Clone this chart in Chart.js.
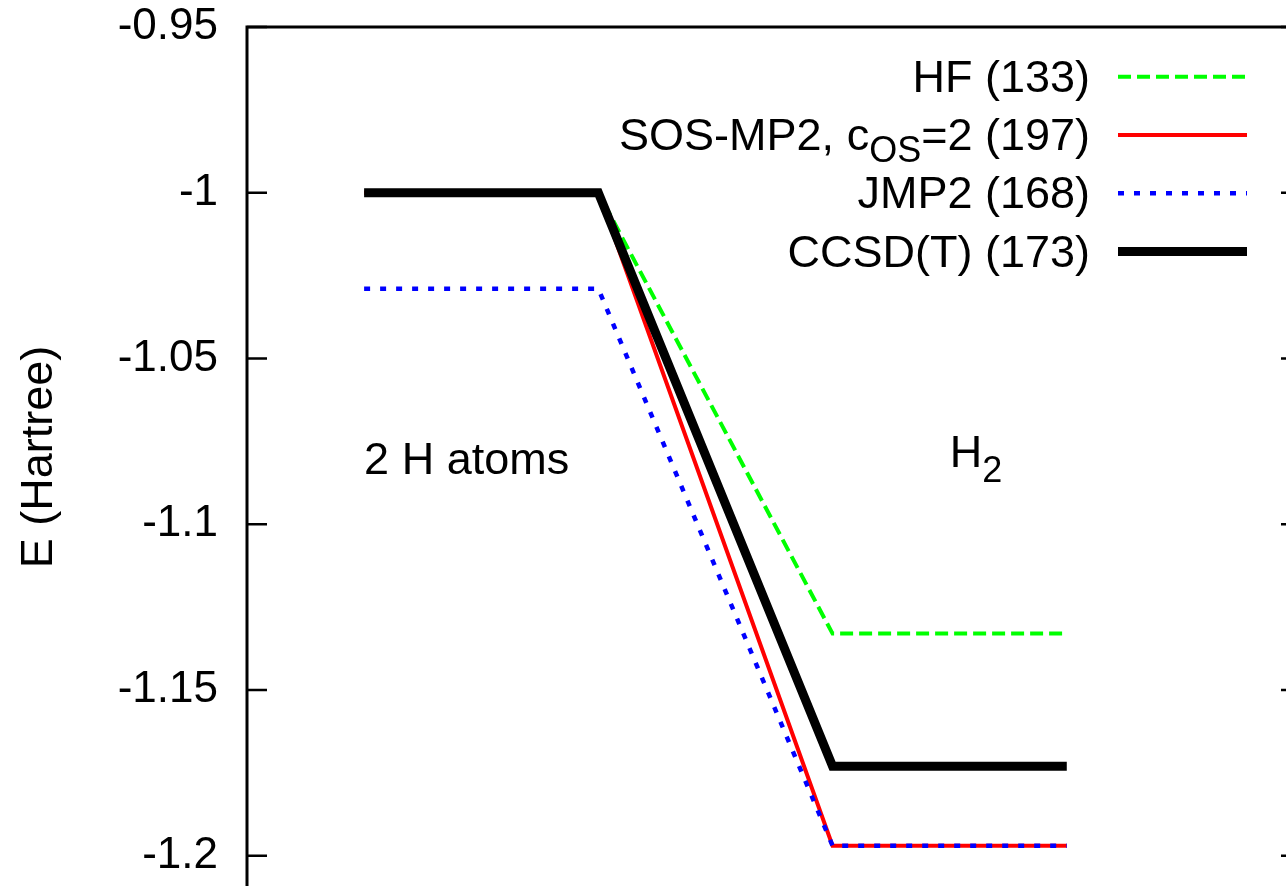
<!DOCTYPE html>
<html lang="en">
<head>
<meta charset="UTF-8">
<meta name="viewport" content="width=device-width, initial-scale=1.0">
<title>H2 binding energy</title>
<style>
  html, body { margin: 0; padding: 0; background: #fff; overflow: hidden; }
  #wrap { width: 1320px; height: 952px; }
</style>
</head>
<body>
<div id="wrap"><canvas id="myChart" width="1320" height="952"></canvas></div>

<script src="https://cdn.jsdelivr.net/npm/chart.js"></script>
<script>
// data (Hartree)
const xPos = [1, 3, 5, 7];
const hf = [-1.0, -1.0, -1.133, -1.133];
const sosmp2 = [-1.0, -1.0, -1.197, -1.197];
const jmp2 = [-1.029, -1.029, -1.197, -1.197];
const ccsdt = [-1.0, -1.0, -1.173, -1.173];
const seriesNames = ['HF (133)', 'SOS-MP2, c_{OS}=2 (197)', 'JMP2 (168)', 'CCSD(T) (173)'];
const yTicks = [-0.95, -1, -1.05, -1.1, -1.15, -1.2];
const stateLabels = ['2 H atoms', 'H_{2}'];
const yTitle = 'E (Hartree)';

const FAMILY = '"Liberation Sans", Arial, sans-serif';
const MAIN_FONT = '45px ' + FAMILY;
const SUB_FONT = '36px ' + FAMILY;

function pts(ys) {
  return xPos.map((x, i) => ({ x: x, y: ys[i] }));
}

// split "c_{OS}" into normal / subscript pieces
function parts(str) {
  const out = [];
  const re = /_\{([^}]*)\}/g;
  let last = 0, m;
  while ((m = re.exec(str))) {
    if (m.index > last) out.push({ t: str.slice(last, m.index), sub: false });
    out.push({ t: m[1], sub: true });
    last = re.lastIndex;
  }
  if (last < str.length) out.push({ t: str.slice(last), sub: false });
  return out;
}

function drawRich(ctx, str, x, y, align, subDrop) {
  const segs = parts(str);
  const w = segs.map(s => { ctx.font = s.sub ? SUB_FONT : MAIN_FONT; return ctx.measureText(s.t).width; });
  const total = w.reduce((a, b) => a + b, 0);
  let cx = align === 'right' ? x - total : x;
  ctx.textAlign = 'left';
  ctx.textBaseline = 'alphabetic';
  segs.forEach((s, i) => {
    ctx.font = s.sub ? SUB_FONT : MAIN_FONT;
    ctx.fillText(s.t, cx, s.sub ? y + subDrop : y);
    cx += w[i];
  });
}

const framePlugin = {
  id: 'frame',
  afterDraw(chart) {
    const ctx = chart.ctx;
    const a = chart.chartArea;
    const ys = chart.scales.y, xs = chart.scales.x;
    ctx.save();
    ctx.strokeStyle = '#000';
    ctx.lineWidth = 3;
    ctx.strokeRect(a.left, a.top, a.right - a.left, a.bottom - a.top);

    // inward tick marks on both sides
    ctx.lineWidth = 2.5;
    yTicks.forEach(v => {
      const py = ys.getPixelForValue(v);
      ctx.beginPath();
      ctx.moveTo(a.left, py); ctx.lineTo(a.left + 20, py);
      ctx.moveTo(a.right - 20, py); ctx.lineTo(a.right, py);
      ctx.stroke();
    });

    ctx.fillStyle = '#000';
    // state labels
    drawRich(ctx, stateLabels[0], xs.getPixelForValue(1), ys.getPixelForValue(-1.0848), 'left', 13);
    drawRich(ctx, stateLabels[1], xs.getPixelForValue(6), ys.getPixelForValue(-1.0826), 'left', 15);

    // y axis title
    ctx.save();
    ctx.translate(40, 457);
    ctx.rotate(-Math.PI / 2);
    ctx.font = MAIN_FONT;
    ctx.textAlign = 'center';
    ctx.textBaseline = 'middle';
    ctx.fillText(yTitle, 0, 0);
    ctx.restore();

    // key, text on the left of the sample
    chart.data.datasets.forEach((ds, i) => {
      const rowY = 76.7 + 58.3 * i;
      ctx.fillStyle = '#000';
      drawRich(ctx, ds.label, 1090, rowY + 15, 'right', 12);
      ctx.beginPath();
      ctx.strokeStyle = ds.borderColor;
      ctx.lineWidth = ds.borderWidth;
      ctx.setLineDash(ds.borderDash || []);
      ctx.lineCap = 'butt';
      ctx.moveTo(1118, rowY);
      ctx.lineTo(1247, rowY);
      ctx.stroke();
      ctx.setLineDash([]);
    });
    ctx.restore();
  }
};

const common = {
  showLine: true,
  pointRadius: 0,
  pointHoverRadius: 0,
  fill: false,
  tension: 0,
  borderJoinStyle: 'miter',
  borderCapStyle: 'butt'
};

const ctx = document.getElementById('myChart');
const myChart = new Chart(ctx, {
  type: 'line',
  data: {
    datasets: [
      Object.assign({ label: seriesNames[0], data: pts(hf), borderColor: '#00ff00', borderWidth: 4, borderDash: [13, 6], order: 4 }, common),
      Object.assign({ label: seriesNames[1], data: pts(sosmp2), borderColor: '#ff0000', borderWidth: 4, borderDash: [], order: 3 }, common),
      Object.assign({ label: seriesNames[2], data: pts(jmp2), borderColor: '#0000ff', borderWidth: 4.5, borderDash: [6, 10], order: 2 }, common),
      Object.assign({ label: seriesNames[3], data: pts(ccsdt), borderColor: '#000000', borderWidth: 9, borderDash: [], order: 1 }, common)
    ]
  },
  options: {
    responsive: false,
    animation: false,
    devicePixelRatio: 1,
    layout: { padding: { top: 27, right: 19, bottom: 30, left: 0 } },
    plugins: {
      legend: { display: false },
      tooltip: { enabled: false }
    },
    scales: {
      x: { type: 'linear', min: 0, max: 9, display: false },
      y: {
        type: 'linear',
        min: -1.22,
        max: -0.95,
        afterFit: s => { s.width = 247; s.paddingTop = 0; s.paddingBottom = 0; },
        afterBuildTicks: s => { s.ticks = yTicks.map(v => ({ value: v })); },
        grid: { display: false, drawTicks: false },
        border: { display: false },
        ticks: {
          padding: 29,
          color: '#000',
          font: { family: FAMILY, size: 44 },
          callback: v => String(v)
        }
      }
    }
  },
  plugins: [framePlugin]
});
</script>
</body>
</html>
